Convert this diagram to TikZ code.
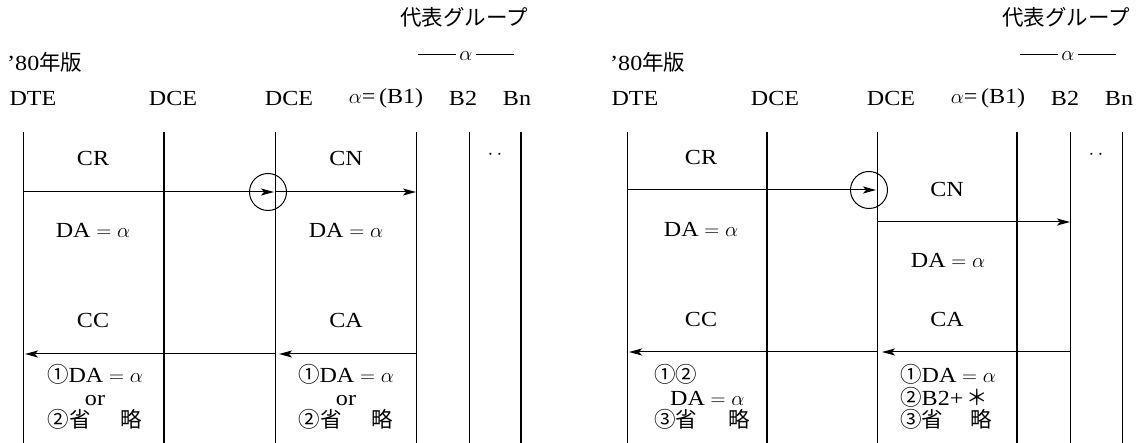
\documentclass[tikz,border=0pt]{standalone}
\usepackage{fontspec}
\setmainfont[FakeStretch=1.12]{Liberation Serif}
\newfontfamily\jp{Noto Sans CJK JP}
\usetikzlibrary{arrows.meta}
\newcommand{\DAa}{DA${}={}\alpha$}
\begin{document}
\begin{tikzpicture}[x=1pt,y=-1pt,
  every node/.style={font=\fontsize{21.5}{22.5}\selectfont, inner sep=0pt},
  life/.style={line width=0.9pt},
  boldlife/.style={line width=1.4pt},
  msg/.style={line width=1pt, -{Stealth[length=13pt,width=7pt,inset=3pt]}},
  ring/.style={circle, draw, line width=1pt, minimum size=37pt},
  txt/.style={align=center},
  ltxt/.style={align=left, anchor=west}]
\useasboundingbox (0,0) rectangle (1141,443);

% ---------------- left panel ----------------
\foreach \n/\x/\s in {1/23/life,2/164/boldlife,3/275/life,4/416/life,5/469/life,6/521/boldlife}{
  \coordinate (La\n t) at (\x,132);
  \coordinate (La\n b) at (\x,443);
  \draw[\s] (La\n t) -- (La\n b);
}
\node[anchor=east] (Lrep) at (528,17) {\jp 代表グループ};
\node (Lgrp) at (466,56) {\rule[0.28em]{38pt}{0.6pt}\,$\alpha$\,\rule[0.28em]{38pt}{0.6pt}};
\node[anchor=west] (Lyr) at (7,62) {’80{\jp 年版}};
\node (Ldte) at (33,98) {DTE};
\node (Ldce1) at (173,98) {DCE};
\node (Ldce2) at (289,98) {DCE};
\node (Lb1) at (386,98) {$\alpha$=\,(B1)};
\node (Lb2) at (463,98) {B2};
\node (Lbn) at (517,98) {Bn};

\node (Lcr) at (93,158) {CR};
\node (Lcn) at (346,158) {CN};
\node (Ldots) at (495,155) {$\cdot\,\cdot$};
\coordinate (Lm1) at (23,192);
\coordinate (Lm3) at (274,192);
\coordinate (Lm3s) at (275,192);
\coordinate (Lm4) at (416,192);
\draw[msg] (Lm1) -- (Lm3);
\draw[msg] (Lm3s) -- (Lm4);
\node[ring] (Lring) at (268,192) {};
\node (Lda1) at (93,230) {\DAa};
\node (Lda2) at (346,230) {\DAa};

\node (Lcc) at (93,320) {CC};
\node (Lca) at (346,320) {CA};
\coordinate (Lr4) at (416,354);
\coordinate (Lr3) at (279,354);
\coordinate (Lr3s) at (276,354);
\coordinate (Lr1) at (25,354);
\draw[msg] (Lr4) -- (Lr3);
\draw[msg] (Lr3s) -- (Lr1);
\node[txt] (Lcct) at (95,397) {{\jp ①}\DAa\\or\\\makebox[95pt]{{\jp ②省}\hfill{\jp 略}}};
\node[txt] (Lcat) at (346,397) {{\jp ①}\DAa\\or\\\makebox[95pt]{{\jp ②省}\hfill{\jp 略}}};

% ---------------- right panel ----------------
\foreach \n/\x/\s in {1/627/life,2/767/boldlife,3/877/life,4/1017/boldlife,5/1070/life,6/1122/life}{
  \coordinate (Ra\n t) at (\x,132);
  \coordinate (Ra\n b) at (\x,443);
  \draw[\s] (Ra\n t) -- (Ra\n b);
}
\node[anchor=east] (Rrep) at (1130,17) {\jp 代表グループ};
\node (Rgrp) at (1068,56) {\rule[0.28em]{38pt}{0.6pt}\,$\alpha$\,\rule[0.28em]{38pt}{0.6pt}};
\node[anchor=west] (Ryr) at (610,62) {’80{\jp 年版}};
\node (Rdte) at (635,98) {DTE};
\node (Rdce1) at (775,98) {DCE};
\node (Rdce2) at (891,98) {DCE};
\node (Rb1) at (988,98) {$\alpha$=\,(B1)};
\node (Rb2) at (1065,98) {B2};
\node (Rbn) at (1119,98) {Bn};

\node (Rcr) at (701,157) {CR};
\node (Rdots) at (1096,155) {$\cdot\,\cdot$};
\coordinate (Rm1) at (627,190);
\coordinate (Rm3) at (876,190);
\draw[msg] (Rm1) -- (Rm3);
\node[ring] (Rring) at (869,190) {};
\node (Rcn) at (947,189) {CN};
\coordinate (Rn3) at (877,222);
\coordinate (Rn5) at (1070,222);
\draw[msg] (Rn3) -- (Rn5);
\node (Rda1) at (701,229) {\DAa};
\node (Rda2) at (948,260) {\DAa};

\node (Rcc) at (701,319) {CC};
\node (Rca) at (947,319) {CA};
\coordinate (Rr5) at (1070,352);
\coordinate (Rr3) at (882,352);
\coordinate (Rr3s) at (878,352);
\coordinate (Rr1) at (629,352);
\draw[msg] (Rr5) -- (Rr3);
\draw[msg] (Rr3s) -- (Rr1);
\node[ltxt] (Rcct) at (654,397) {{\jp ①②}\\\hspace*{16pt}\DAa\\\makebox[96pt][l]{{\jp ③省}\hfill{\jp 略}}};
\node[ltxt] (Rcat) at (900,397) {{\jp ①}\DAa\\{\jp ②}B2+\,{\jp ＊}\\\makebox[92pt][l]{{\jp ③省}\hfill{\jp 略}}};
\end{tikzpicture}
\end{document}
